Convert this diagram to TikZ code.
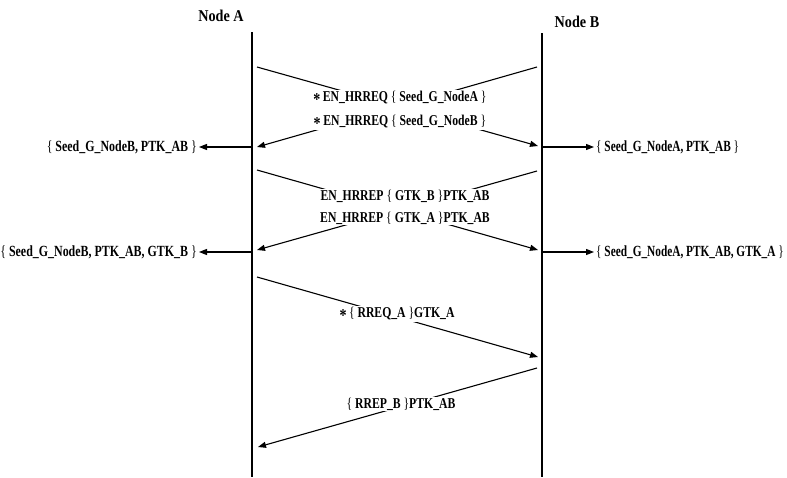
\documentclass[tikz,border=0pt]{standalone}
\usepackage{fontspec}
\setmainfont[FakeStretch=0.78]{Liberation Serif}
\newfontfamily\hdfont[FakeStretch=0.86]{Liberation Serif}
\newfontfamily\leftkeyfont[FakeStretch=0.77]{Liberation Serif}
\newfontfamily\rightkeyfont[FakeStretch=0.73]{Liberation Serif}
\usetikzlibrary{arrows.meta}
\newcommand{\lb}{\textmd{\{}}
\newcommand{\rb}{\textmd{\}}}
\newcommand{\stmark}{\raisebox{-0.6ex}{\fontsize{18}{18}\selectfont *}\,}
\begin{document}
\begin{tikzpicture}[x=1pt,y=-1pt,
  msg/.style={line width=1.1pt,-{Triangle[length=8pt,width=6pt]}},
  life/.style={line width=1.1pt},
  head/.style={font=\hdfont\bfseries\fontsize{16.5}{18}\selectfont, inner sep=0pt},
  lbl/.style={font=\bfseries\fontsize{15}{22}\selectfont, fill=white, inner sep=1pt, align=center},
  keyl/.style={font=\leftkeyfont\bfseries\fontsize{15.5}{17}\selectfont, inner sep=0pt, anchor=east},
  keyr/.style={font=\rightkeyfont\bfseries\fontsize{15.5}{17}\selectfont, inner sep=0pt, anchor=west}]
\useasboundingbox (0,0) rectangle (787,477);
% lifelines and their titles
\node[head] (hA) at (221,16) {Node A};
\node[head] (hB) at (577,22) {Node B};
\coordinate (a0) at (252,32);  \coordinate (a1) at (252,477);
\coordinate (b0) at (542,33);  \coordinate (b1) at (542,477);
\draw[life] (a0) -- (a1);
\draw[life] (b0) -- (b1);
% hello request exchange
\coordinate (p1s) at (257,67);  \coordinate (p1e) at (538,146);
\coordinate (q1s) at (537,67);  \coordinate (q1e) at (257,147);
\draw[msg] (p1s) -- (p1e);
\draw[msg] (q1s) -- (q1e);
\node[lbl] (m1) at (400,110) {\stmark EN\_HRREQ \lb\ Seed\_G\_NodeA \rb\\[2pt]\stmark EN\_HRREQ \lb\ Seed\_G\_NodeB \rb};
% keys derived after the request
\coordinate (la1) at (252,147); \coordinate (ta1) at (199,147);
\coordinate (lb1) at (542,147); \coordinate (tb1) at (594,147);
\draw[msg] (la1) -- (ta1);
\draw[msg] (lb1) -- (tb1);
\node[keyl] (kA1) at (197,147) {\lb\ Seed\_G\_NodeB, PTK\_AB \rb};
\node[keyr] (kB1) at (596,147) {\lb\ Seed\_G\_NodeA, PTK\_AB \rb};
% hello reply exchange
\coordinate (p2s) at (257,170);  \coordinate (p2e) at (538,250);
\coordinate (q2s) at (537,171);  \coordinate (q2e) at (257,250);
\draw[msg] (p2s) -- (p2e);
\draw[msg] (q2s) -- (q2e);
\node[lbl] (m2) at (405,207) {EN\_HRREP \lb\ GTK\_B \rb PTK\_AB\\EN\_HRREP \lb\ GTK\_A \rb PTK\_AB};
% keys derived after the reply
\coordinate (la2) at (252,252); \coordinate (ta2) at (199,252);
\coordinate (lb2) at (542,252); \coordinate (tb2) at (594,252);
\draw[msg] (la2) -- (ta2);
\draw[msg] (lb2) -- (tb2);
\node[keyl] (kA2) at (197,252) {\lb\ Seed\_G\_NodeB, PTK\_AB, GTK\_B \rb};
\node[keyr] (kB2) at (596,252) {\lb\ Seed\_G\_NodeA, PTK\_AB, GTK\_A \rb};
% route request
\coordinate (p3s) at (257,277);  \coordinate (p3e) at (538,357);
\draw[msg] (p3s) -- (p3e);
\node[lbl] (m3) at (397,314) {\stmark\lb\ RREQ\_A \rb GTK\_A};
% route reply
\coordinate (q4s) at (537,368);  \coordinate (q4e) at (258,447);
\draw[msg] (q4s) -- (q4e);
\node[lbl] (m4) at (401,404) {\lb\ RREP\_B \rb PTK\_AB};
\end{tikzpicture}
\end{document}
